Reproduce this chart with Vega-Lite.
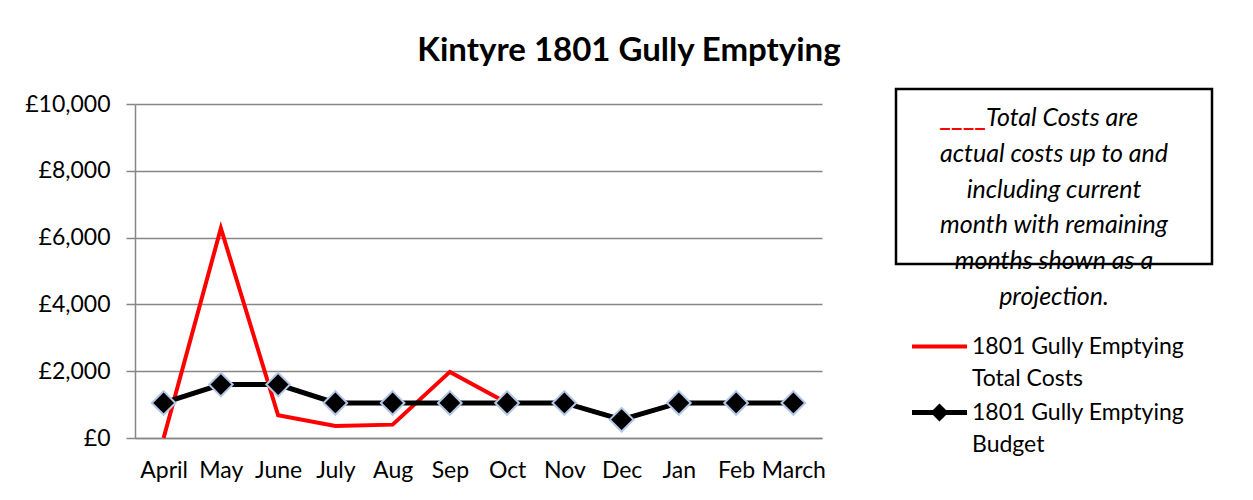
{
  "$schema": "https://vega.github.io/schema/vega-lite/v6.json",
  "background": "white",
  "padding": {"left": 24, "top": 34, "right": 10, "bottom": 5},
  "title": {"text": "Kintyre 1801 Gully Emptying", "font": "Lato", "fontSize": 33, "fontWeight": "bold", "color": "black", "anchor": "middle", "offset": 20, "dx": 10},
  "config": {"font": "Lato"},
  "spacing": 68,
  "datasets": {
    "costs": [
      {"month": "April", "series": "1801 Gully Emptying Total Costs", "value": 0},
      {"month": "May", "series": "1801 Gully Emptying Total Costs", "value": 6280},
      {"month": "June", "series": "1801 Gully Emptying Total Costs", "value": 680},
      {"month": "July", "series": "1801 Gully Emptying Total Costs", "value": 360},
      {"month": "Aug", "series": "1801 Gully Emptying Total Costs", "value": 400},
      {"month": "Sep", "series": "1801 Gully Emptying Total Costs", "value": 1980},
      {"month": "Oct", "series": "1801 Gully Emptying Total Costs", "value": 1050},
      {"month": "Nov", "series": "1801 Gully Emptying Total Costs", "value": 1050},
      {"month": "Dec", "series": "1801 Gully Emptying Total Costs", "value": 550},
      {"month": "Jan", "series": "1801 Gully Emptying Total Costs", "value": 1050},
      {"month": "Feb", "series": "1801 Gully Emptying Total Costs", "value": 1050},
      {"month": "March", "series": "1801 Gully Emptying Total Costs", "value": 1050},
      {"month": "April", "series": "1801 Gully Emptying Budget", "value": 1050},
      {"month": "May", "series": "1801 Gully Emptying Budget", "value": 1600},
      {"month": "June", "series": "1801 Gully Emptying Budget", "value": 1600},
      {"month": "July", "series": "1801 Gully Emptying Budget", "value": 1050},
      {"month": "Aug", "series": "1801 Gully Emptying Budget", "value": 1050},
      {"month": "Sep", "series": "1801 Gully Emptying Budget", "value": 1050},
      {"month": "Oct", "series": "1801 Gully Emptying Budget", "value": 1050},
      {"month": "Nov", "series": "1801 Gully Emptying Budget", "value": 1050},
      {"month": "Dec", "series": "1801 Gully Emptying Budget", "value": 550},
      {"month": "Jan", "series": "1801 Gully Emptying Budget", "value": 1050},
      {"month": "Feb", "series": "1801 Gully Emptying Budget", "value": 1050},
      {"month": "March", "series": "1801 Gully Emptying Budget", "value": 1050}
    ],
    "note": [
      {"line": 1, "text": "Total Costs are"},
      {"line": 2, "text": "actual costs up to and"},
      {"line": 3, "text": "including current"},
      {"line": 4, "text": "month with remaining"},
      {"line": 5, "text": "months shown as a"},
      {"line": 6, "text": "projection."}
    ],
    "box": [{"top": 0.19, "bottom": 5.08}]
  },
  "hconcat": [
    {
      "width": 687,
      "height": 334,
      "data": {"name": "costs"},
      "view": {"stroke": null},
      "encoding": {
        "x": {
          "field": "month", "type": "nominal",
          "sort": ["April", "May", "June", "July", "Aug", "Sep", "Oct", "Nov", "Dec", "Jan", "Feb", "March"],
          "title": null,
          "axis": {"labelAngle": 0, "ticks": false, "domain": true, "domainColor": "#868686", "domainWidth": 1.5, "labelPadding": 21, "labelFont": "Lato", "labelFontSize": 23, "labelColor": "black", "grid": false}
        },
        "y": {
          "field": "value", "type": "quantitative",
          "scale": {"domain": [0, 10000], "nice": false},
          "title": null,
          "axis": {"values": [0, 2000, 4000, 6000, 8000, 10000], "labelExpr": "'£' + format(datum.value, ',')", "grid": true, "gridColor": "#868686", "gridWidth": 1.5, "domainColor": "#868686", "domainWidth": 1.5, "tickColor": "#868686", "tickWidth": 1.5, "tickSize": 9, "labelPadding": 16, "labelFont": "Lato", "labelFontSize": 23, "labelColor": "black"}
        }
      },
      "layer": [
        {
          "transform": [{"filter": "datum.series == '1801 Gully Emptying Total Costs'"}],
          "mark": {"type": "line", "strokeWidth": 4},
          "encoding": {
            "color": {
              "field": "series", "type": "nominal",
              "scale": {"domain": ["1801 Gully Emptying Total Costs", "1801 Gully Emptying Budget"], "range": ["#FF0000", "#000000"]},
              "legend": {
                "orient": "none", "legendX": 793, "legendY": 231, "title": null, "padding": 0,
                "symbolSize": 3025, "symbolStrokeWidth": 4,
                "labelExpr": "[slice(datum.label, 0, 19), slice(datum.label, 20)]",
                "labelFont": "Lato", "labelFontSize": 23, "labelColor": "black", "labelLimit": 400, "labelOffset": 21, "rowPadding": 6,
                "encode": {
                  "symbols": {"update": {
                    "shape": {"signal": "datum.value == '1801 Gully Emptying Budget' ? 'M-1,0H1M-0.2,0L0,-0.2L0.2,0L0,0.2Z' : 'M-1,0H1'"},
                    "fill": {"signal": "datum.value == '1801 Gully Emptying Budget' ? '#000000' : 'transparent'"},
                    "strokeWidth": {"signal": "datum.value == '1801 Gully Emptying Budget' ? 5 : 4"}
                  }},
                  "labels": {"update": {"lineHeight": {"value": 32}}}
                }
              }
            }
          }
        },
        {
          "transform": [{"filter": "datum.series == '1801 Gully Emptying Budget'"}],
          "mark": {"type": "line", "strokeWidth": 5},
          "encoding": {"color": {"field": "series", "type": "nominal"}}
        },
        {
          "transform": [{"filter": "datum.series == '1801 Gully Emptying Budget'"}],
          "mark": {"type": "point", "shape": "diamond", "size": 560, "filled": true, "fill": "#000000", "stroke": "#B4C7E7", "strokeWidth": 2, "opacity": 1}
        }
      ]
    },
    {
      "width": 316,
      "height": 334,
      "view": {"stroke": null},
      "layer": [
        {
          "data": {"name": "box"},
          "mark": {"type": "rect", "fill": null, "stroke": "#000000", "strokeWidth": 2.5},
          "encoding": {
            "y": {"field": "top", "type": "quantitative", "scale": {"domain": [0.609, 9.939], "reverse": true, "nice": false, "zero": false}, "axis": null},
            "y2": {"field": "bottom"}
          }
        },
        {
          "data": {"name": "note"},
          "transform": [{"filter": "datum.line > 1"}],
          "mark": {"type": "text", "font": "Lato", "fontStyle": "italic", "fontSize": 25, "align": "center", "baseline": "middle", "color": "#000000"},
          "encoding": {"y": {"field": "line", "type": "quantitative"}, "text": {"field": "text"}}
        },
        {
          "data": {"name": "note"},
          "transform": [{"filter": "datum.line == 1"}],
          "mark": {"type": "text", "font": "Lato", "fontStyle": "italic", "fontSize": 25, "align": "left", "baseline": "middle", "dx": -68, "color": "#000000"},
          "encoding": {"y": {"field": "line", "type": "quantitative"}, "text": {"field": "text"}}
        },
        {
          "data": {"name": "note"},
          "transform": [{"filter": "datum.line == 1"}],
          "mark": {"type": "text", "font": "Lato", "fontWeight": "bold", "fontSize": 25, "align": "right", "baseline": "middle", "dx": -68, "color": "#FF0000"},
          "encoding": {"y": {"field": "line", "type": "quantitative"}, "text": {"value": "____"}}
        }
      ]
    }
  ]
}
